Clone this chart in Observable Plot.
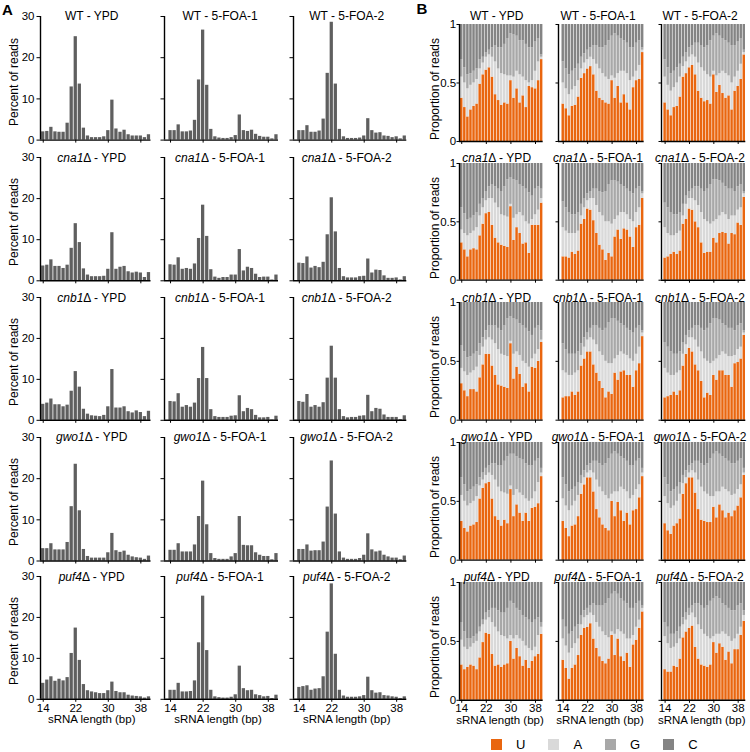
<!DOCTYPE html>
<html><head><meta charset="utf-8">
<script src="https://cdn.jsdelivr.net/npm/d3@7"></script>
<script src="https://cdn.jsdelivr.net/npm/@observablehq/plot@0.6"></script>
<style>
html,body{margin:0;padding:0;background:#fff;}
#root{position:relative;width:750px;height:752px;overflow:hidden;font-family:"Liberation Sans",Arial,sans-serif;color:#000;}
.t{position:absolute;font-size:12px;white-space:nowrap;line-height:1;transform:translate(-50%,-50%);}
.xl{position:absolute;font-size:11.5px;white-space:nowrap;line-height:1;transform:translate(-50%,-50%);}
.yl{position:absolute;font-size:12px;white-space:nowrap;line-height:1;transform:translate(-50%,-50%) rotate(-90deg);}
.pl{position:absolute;font-size:15px;font-weight:bold;line-height:1;transform:translate(-50%,-50%);}
.nl-swatches{min-height:0 !important;margin:0 !important;line-height:11px !important;}
.nl-swatch{margin-right:23px !important;}
.nl-swatch > svg{margin-right:14px !important;}
</style></head>
<body><div id="root"></div>
<script>
// ---------- categories / ticks ----------
const lengths = [14,15,16,17,18,19,20,21,22,23,24,25,26,27,28,29,30,31,32,33,34,35,36,37,38,39,40];
const strains = ["WT","cna1","cnb1","gwo1","puf4"];
const conditions = ["YPD","5-FOA-1","5-FOA-2"];
const xTicks = [14,22,30,38];
const yTicksA = [0,10,20,30];
const yTicksB = [0,0.5,1];
const nucleotides = ["U","A","G","C"];
const nucColors = ["#e9660f","#d9d9d9","#a8a8a8","#848484"];

// ---------- A: percent of reads ----------
const pct_WT_YPD   = [2.0,2.1,3.1,2.0,1.9,1.9,4.1,12.9,25.1,13.6,2.9,1.0,0.6,0.6,0.6,0.8,2.3,9.7,2.7,1.9,2.4,1.3,1.0,1.0,1.0,0.6,1.3];
const pct_WT_FOA1  = [2.3,2.3,3.7,2.0,2.0,2.2,4.8,14.6,26.7,13.3,2.6,0.8,0.5,0.4,0.4,0.6,1.1,6.1,2.3,2.1,2.4,1.4,0.9,0.7,0.7,0.3,1.3];
const pct_WT_FOA2  = [2.3,2.3,3.5,1.9,1.9,2.2,5.1,16.2,28.6,13.6,2.6,0.8,0.4,0.4,0.4,0.5,1.0,5.2,2.3,1.7,1.8,1.0,0.9,0.6,0.8,0.3,1.0];
const pct_cna1_YPD = [3.6,3.8,5.1,3.5,3.5,3.0,3.8,7.9,13.9,9.3,2.9,1.4,1.0,1.0,1.0,1.1,2.8,11.7,2.8,3.3,3.5,2.2,1.9,2.1,1.9,0.8,2.0];
const pct_cna1_FOA1= [3.9,3.8,5.6,2.8,3.0,2.8,4.1,10.3,18.4,10.8,2.7,0.9,0.6,0.8,0.8,1.4,1.4,7.6,2.4,3.3,3.0,1.6,0.8,0.9,0.9,0.2,1.4];
const pct_cna1_FOA2= [4.3,4.2,5.8,3.1,3.5,3.2,4.5,11.2,20.2,11.9,3.0,1.0,0.7,0.7,0.7,1.0,1.1,5.3,1.9,2.6,2.5,1.2,0.6,0.6,0.7,0.2,1.0];
const pct_cnb1_YPD = [3.9,4.2,5.2,3.8,3.8,3.3,3.7,7.1,11.9,8.1,2.7,1.5,1.1,1.0,0.9,1.2,3.3,12.4,3.0,3.0,3.3,2.1,1.8,2.3,1.9,0.9,2.2];
const pct_cnb1_FOA1= [4.6,4.5,6.5,3.2,3.6,3.2,4.2,10.2,17.8,10.2,2.6,0.9,0.7,0.7,0.7,1.0,1.1,6.0,2.1,2.9,2.6,1.2,0.6,0.6,0.7,0.1,1.0];
const pct_cnb1_FOA2= [4.6,4.4,6.3,3.2,3.6,3.2,4.3,10.3,18.1,10.3,2.6,0.9,0.6,0.7,0.7,1.0,1.1,6.1,2.1,2.9,2.7,1.3,0.7,0.7,0.7,0.2,1.1];
const pct_gwo1_YPD = [3.0,3.0,4.2,2.7,2.7,2.7,4.5,13.2,23.5,12.2,2.8,1.1,0.7,0.7,0.7,0.7,2.0,6.7,2.5,2.1,2.4,1.4,1.0,0.8,0.7,0.4,1.2];
const pct_gwo1_FOA1= [2.6,2.6,4.2,2.2,2.2,2.2,3.9,10.8,19.4,8.8,1.8,0.6,0.4,0.4,0.4,1.0,1.8,10.8,3.8,3.7,3.7,2.0,1.4,1.1,1.1,0.3,1.8];
const pct_gwo1_FOA2= [2.8,2.8,3.9,2.4,2.5,2.5,4.6,13.1,24.3,11.4,2.2,0.7,0.4,0.4,0.4,0.6,1.4,6.6,2.7,2.2,2.4,1.4,1.0,0.7,0.7,0.3,1.2];
const pct_puf4_YPD = [3.9,4.7,5.5,4.4,4.9,4.5,5.3,11.2,17.4,9.5,3.6,2.1,1.8,1.6,1.4,1.4,2.1,4.2,1.9,1.6,1.6,1.0,0.8,0.7,0.6,0.3,0.6];
const pct_puf4_FOA1= [2.2,2.2,3.9,1.8,1.8,1.9,4.5,13.8,25.2,11.9,2.2,0.6,0.4,0.3,0.3,0.5,1.1,8.1,2.6,2.1,2.2,1.1,0.9,0.6,0.7,0.2,1.0];
const pct_puf4_FOA2= [2.9,3.1,3.3,2.2,2.5,2.6,5.5,16.4,28.2,11.0,2.2,0.8,0.5,0.5,0.5,0.6,0.9,5.4,2.1,1.5,1.6,0.9,0.8,0.6,0.5,0.2,0.6];

// ---------- B: proportion of reads (cumulative tops: U, U+A, U+A+G; C fills to 1) ----------
const u_WT_YPD    = [0.37,0.29,0.21,0.27,0.30,0.32,0.49,0.57,0.61,0.63,0.55,0.40,0.35,0.31,0.33,0.32,0.52,0.37,0.45,0.33,0.39,0.29,0.47,0.46,0.45,0.52,0.70];
const ua_WT_YPD   = [0.55,0.50,0.45,0.48,0.50,0.53,0.62,0.67,0.72,0.74,0.72,0.68,0.62,0.58,0.57,0.56,0.56,0.55,0.60,0.57,0.55,0.52,0.50,0.52,0.60,0.68,0.72];
const uag_WT_YPD  = [0.70,0.63,0.57,0.58,0.60,0.62,0.70,0.72,0.76,0.78,0.80,0.82,0.80,0.80,0.83,0.88,0.92,0.91,0.90,0.86,0.86,0.83,0.80,0.80,0.85,0.88,0.74];
const u_WT_FOA1   = [0.32,0.28,0.22,0.30,0.31,0.38,0.54,0.58,0.62,0.64,0.57,0.43,0.37,0.35,0.33,0.32,0.52,0.37,0.47,0.33,0.40,0.33,0.27,0.46,0.52,0.53,0.76];
const ua_WT_FOA1  = [0.50,0.45,0.40,0.44,0.47,0.52,0.62,0.67,0.70,0.72,0.70,0.66,0.62,0.58,0.55,0.53,0.56,0.54,0.58,0.60,0.60,0.58,0.52,0.55,0.60,0.65,0.78];
const uag_WT_FOA1 = [0.68,0.62,0.57,0.60,0.62,0.66,0.72,0.75,0.78,0.80,0.82,0.82,0.80,0.80,0.82,0.86,0.90,0.92,0.90,0.88,0.86,0.84,0.80,0.80,0.84,0.86,0.80];
const u_WT_FOA2   = [0.33,0.27,0.22,0.29,0.30,0.38,0.55,0.58,0.63,0.65,0.57,0.43,0.37,0.34,0.35,0.32,0.57,0.42,0.48,0.41,0.37,0.39,0.27,0.43,0.47,0.53,0.74];
const ua_WT_FOA2  = [0.55,0.48,0.43,0.46,0.50,0.55,0.64,0.68,0.72,0.74,0.72,0.67,0.63,0.60,0.57,0.55,0.60,0.56,0.58,0.60,0.58,0.56,0.50,0.55,0.60,0.66,0.76];
const uag_WT_FOA2 = [0.70,0.63,0.58,0.60,0.63,0.66,0.72,0.76,0.80,0.82,0.84,0.84,0.82,0.80,0.82,0.86,0.90,0.92,0.90,0.88,0.86,0.84,0.82,0.82,0.85,0.88,0.78];

const u_cna1_YPD    = [0.32,0.26,0.20,0.26,0.27,0.26,0.38,0.48,0.57,0.58,0.47,0.36,0.32,0.30,0.29,0.28,0.63,0.34,0.45,0.40,0.31,0.32,0.23,0.47,0.47,0.47,0.66];
const ua_cna1_YPD   = [0.43,0.40,0.38,0.40,0.42,0.45,0.55,0.62,0.68,0.70,0.70,0.66,0.62,0.56,0.55,0.54,0.65,0.53,0.56,0.58,0.55,0.50,0.48,0.52,0.56,0.60,0.70];
const uag_cna1_YPD  = [0.62,0.57,0.52,0.53,0.55,0.58,0.65,0.70,0.76,0.80,0.82,0.80,0.78,0.76,0.80,0.86,0.88,0.86,0.85,0.82,0.80,0.78,0.75,0.72,0.78,0.80,0.78];
const u_cna1_FOA1   = [0.20,0.20,0.19,0.24,0.22,0.25,0.48,0.52,0.61,0.60,0.51,0.40,0.30,0.26,0.17,0.23,0.20,0.37,0.43,0.35,0.44,0.43,0.37,0.28,0.45,0.47,0.70];
const ua_cna1_FOA1  = [0.45,0.42,0.40,0.40,0.40,0.42,0.55,0.62,0.68,0.70,0.70,0.64,0.58,0.55,0.50,0.50,0.48,0.52,0.55,0.58,0.58,0.56,0.52,0.50,0.58,0.62,0.74];
const uag_cna1_FOA1 = [0.67,0.62,0.58,0.56,0.56,0.58,0.65,0.70,0.74,0.76,0.78,0.78,0.76,0.75,0.76,0.82,0.85,0.85,0.84,0.82,0.80,0.78,0.76,0.74,0.78,0.80,0.76];
const u_cna1_FOA2   = [0.19,0.20,0.22,0.24,0.22,0.25,0.48,0.52,0.61,0.60,0.50,0.45,0.32,0.23,0.24,0.24,0.36,0.32,0.40,0.41,0.40,0.31,0.40,0.39,0.49,0.47,0.71];
const ua_cna1_FOA2  = [0.45,0.40,0.38,0.38,0.40,0.42,0.55,0.65,0.70,0.70,0.68,0.64,0.58,0.52,0.50,0.48,0.50,0.52,0.55,0.58,0.56,0.52,0.55,0.55,0.60,0.62,0.74];
const uag_cna1_FOA2 = [0.66,0.62,0.58,0.56,0.56,0.58,0.65,0.72,0.76,0.78,0.80,0.80,0.78,0.76,0.78,0.82,0.86,0.86,0.85,0.83,0.80,0.78,0.78,0.76,0.80,0.82,0.76];

const u_cnb1_YPD    = [0.31,0.25,0.20,0.26,0.26,0.24,0.36,0.47,0.56,0.56,0.46,0.38,0.30,0.29,0.28,0.27,0.65,0.35,0.45,0.39,0.28,0.31,0.24,0.45,0.44,0.50,0.66];
const ua_cnb1_YPD   = [0.44,0.41,0.38,0.40,0.42,0.45,0.55,0.62,0.68,0.70,0.68,0.65,0.60,0.56,0.55,0.54,0.67,0.56,0.58,0.55,0.50,0.48,0.45,0.52,0.56,0.60,0.68];
const uag_cnb1_YPD  = [0.63,0.58,0.53,0.54,0.56,0.58,0.65,0.70,0.76,0.80,0.80,0.80,0.78,0.76,0.80,0.86,0.88,0.86,0.85,0.82,0.80,0.78,0.75,0.72,0.78,0.80,0.76];
const u_cnb1_FOA1   = [0.19,0.20,0.20,0.24,0.21,0.24,0.46,0.52,0.58,0.58,0.47,0.40,0.33,0.27,0.19,0.24,0.22,0.40,0.34,0.41,0.42,0.38,0.38,0.28,0.42,0.48,0.71];
const ua_cnb1_FOA1  = [0.42,0.40,0.38,0.38,0.40,0.42,0.55,0.62,0.68,0.70,0.68,0.64,0.58,0.55,0.50,0.48,0.48,0.52,0.55,0.58,0.56,0.55,0.52,0.50,0.56,0.62,0.74];
const uag_cnb1_FOA1 = [0.65,0.60,0.56,0.56,0.56,0.58,0.65,0.70,0.74,0.78,0.80,0.80,0.78,0.76,0.78,0.83,0.86,0.86,0.84,0.82,0.80,0.78,0.76,0.74,0.78,0.80,0.76];
const u_cnb1_FOA2   = [0.19,0.20,0.21,0.24,0.21,0.25,0.46,0.56,0.61,0.58,0.47,0.42,0.33,0.19,0.23,0.21,0.38,0.34,0.42,0.42,0.38,0.38,0.28,0.48,0.49,0.52,0.72];
const ua_cnb1_FOA2  = [0.44,0.40,0.38,0.38,0.40,0.42,0.56,0.64,0.70,0.70,0.68,0.62,0.58,0.52,0.50,0.48,0.50,0.52,0.55,0.58,0.56,0.54,0.54,0.55,0.60,0.62,0.74];
const uag_cnb1_FOA2 = [0.66,0.62,0.58,0.56,0.56,0.58,0.66,0.72,0.76,0.78,0.80,0.80,0.78,0.76,0.78,0.82,0.86,0.86,0.85,0.82,0.80,0.78,0.78,0.76,0.80,0.82,0.76];

const u_gwo1_YPD    = [0.33,0.27,0.24,0.29,0.30,0.32,0.52,0.61,0.65,0.66,0.52,0.37,0.34,0.29,0.34,0.31,0.60,0.37,0.47,0.40,0.33,0.40,0.33,0.44,0.45,0.48,0.71];
const ua_gwo1_YPD   = [0.55,0.50,0.46,0.48,0.50,0.54,0.63,0.68,0.72,0.74,0.72,0.68,0.62,0.58,0.57,0.56,0.63,0.55,0.60,0.57,0.55,0.52,0.50,0.52,0.58,0.66,0.74];
const uag_gwo1_YPD  = [0.70,0.64,0.58,0.60,0.62,0.64,0.70,0.74,0.78,0.80,0.82,0.82,0.80,0.80,0.84,0.88,0.90,0.90,0.88,0.86,0.85,0.82,0.80,0.80,0.84,0.86,0.78];
const u_gwo1_FOA1   = [0.33,0.27,0.20,0.29,0.30,0.37,0.56,0.64,0.70,0.70,0.58,0.43,0.36,0.30,0.27,0.25,0.50,0.37,0.49,0.42,0.33,0.40,0.30,0.42,0.43,0.53,0.71];
const ua_gwo1_FOA1  = [0.52,0.46,0.42,0.46,0.50,0.55,0.65,0.70,0.74,0.76,0.74,0.68,0.62,0.58,0.55,0.52,0.56,0.58,0.58,0.62,0.60,0.58,0.52,0.55,0.60,0.64,0.74];
const uag_gwo1_FOA1 = [0.70,0.64,0.58,0.60,0.62,0.66,0.72,0.76,0.80,0.82,0.84,0.84,0.82,0.80,0.82,0.86,0.90,0.92,0.90,0.88,0.86,0.84,0.80,0.80,0.84,0.86,0.78];
const u_gwo1_FOA2   = [0.31,0.25,0.22,0.29,0.31,0.35,0.56,0.65,0.70,0.70,0.57,0.43,0.34,0.33,0.32,0.32,0.45,0.36,0.47,0.42,0.36,0.40,0.37,0.42,0.46,0.53,0.72];
const ua_gwo1_FOA2  = [0.54,0.48,0.44,0.46,0.50,0.56,0.65,0.70,0.74,0.76,0.74,0.68,0.62,0.58,0.56,0.54,0.54,0.58,0.58,0.62,0.60,0.58,0.55,0.56,0.60,0.64,0.74];
const uag_gwo1_FOA2 = [0.70,0.64,0.58,0.60,0.62,0.66,0.72,0.76,0.80,0.82,0.84,0.84,0.82,0.80,0.82,0.86,0.90,0.92,0.90,0.88,0.86,0.84,0.82,0.82,0.84,0.86,0.78];

const u_puf4_YPD    = [0.30,0.26,0.28,0.30,0.29,0.26,0.36,0.49,0.57,0.56,0.39,0.29,0.30,0.28,0.30,0.31,0.50,0.35,0.44,0.37,0.29,0.34,0.27,0.33,0.37,0.39,0.56];
const ua_puf4_YPD   = [0.51,0.45,0.43,0.45,0.48,0.50,0.58,0.64,0.68,0.70,0.66,0.62,0.58,0.55,0.54,0.52,0.55,0.52,0.55,0.52,0.50,0.46,0.44,0.42,0.45,0.55,0.62];
const uag_puf4_YPD  = [0.66,0.58,0.52,0.52,0.54,0.56,0.62,0.68,0.74,0.76,0.78,0.78,0.76,0.74,0.74,0.78,0.84,0.82,0.78,0.76,0.72,0.70,0.68,0.66,0.68,0.70,0.66];
const u_puf4_FOA1   = [0.34,0.27,0.18,0.27,0.30,0.38,0.55,0.61,0.62,0.65,0.52,0.44,0.37,0.33,0.31,0.35,0.55,0.38,0.52,0.37,0.33,0.40,0.28,0.47,0.51,0.61,0.75];
const ua_puf4_FOA1  = [0.52,0.46,0.40,0.44,0.48,0.52,0.64,0.70,0.72,0.74,0.72,0.66,0.62,0.58,0.55,0.53,0.58,0.56,0.60,0.58,0.56,0.52,0.52,0.55,0.62,0.68,0.78];
const uag_puf4_FOA1 = [0.68,0.62,0.56,0.58,0.62,0.64,0.72,0.76,0.78,0.80,0.82,0.80,0.80,0.80,0.82,0.86,0.90,0.92,0.90,0.86,0.84,0.82,0.78,0.78,0.82,0.84,0.80];
const u_puf4_FOA2   = [0.26,0.24,0.24,0.29,0.28,0.35,0.53,0.58,0.61,0.63,0.45,0.35,0.30,0.29,0.28,0.30,0.49,0.40,0.48,0.45,0.34,0.41,0.31,0.43,0.43,0.55,0.67];
const ua_puf4_FOA2  = [0.54,0.48,0.44,0.45,0.48,0.52,0.64,0.68,0.72,0.74,0.70,0.64,0.60,0.56,0.54,0.52,0.54,0.56,0.56,0.58,0.56,0.54,0.50,0.52,0.56,0.62,0.72];
const uag_puf4_FOA2 = [0.66,0.62,0.56,0.56,0.58,0.62,0.70,0.74,0.78,0.80,0.82,0.82,0.80,0.78,0.80,0.84,0.86,0.88,0.86,0.82,0.80,0.78,0.76,0.76,0.80,0.82,0.76];

// ---------- grouping ----------
const pctGrid = [
  [pct_WT_YPD, pct_WT_FOA1, pct_WT_FOA2],
  [pct_cna1_YPD, pct_cna1_FOA1, pct_cna1_FOA2],
  [pct_cnb1_YPD, pct_cnb1_FOA1, pct_cnb1_FOA2],
  [pct_gwo1_YPD, pct_gwo1_FOA1, pct_gwo1_FOA2],
  [pct_puf4_YPD, pct_puf4_FOA1, pct_puf4_FOA2]
];
const nucGrid = [
  [[u_WT_YPD,ua_WT_YPD,uag_WT_YPD],[u_WT_FOA1,ua_WT_FOA1,uag_WT_FOA1],[u_WT_FOA2,ua_WT_FOA2,uag_WT_FOA2]],
  [[u_cna1_YPD,ua_cna1_YPD,uag_cna1_YPD],[u_cna1_FOA1,ua_cna1_FOA1,uag_cna1_FOA1],[u_cna1_FOA2,ua_cna1_FOA2,uag_cna1_FOA2]],
  [[u_cnb1_YPD,ua_cnb1_YPD,uag_cnb1_YPD],[u_cnb1_FOA1,ua_cnb1_FOA1,uag_cnb1_FOA1],[u_cnb1_FOA2,ua_cnb1_FOA2,uag_cnb1_FOA2]],
  [[u_gwo1_YPD,ua_gwo1_YPD,uag_gwo1_YPD],[u_gwo1_FOA1,ua_gwo1_FOA1,uag_gwo1_FOA1],[u_gwo1_FOA2,ua_gwo1_FOA2,uag_gwo1_FOA2]],
  [[u_puf4_YPD,ua_puf4_YPD,uag_puf4_YPD],[u_puf4_FOA1,ua_puf4_FOA1,uag_puf4_FOA1],[u_puf4_FOA2,ua_puf4_FOA2,uag_puf4_FOA2]]
];

// ---------- layout ----------
const FONT = '"Liberation Sans", Arial, sans-serif';
const root = document.getElementById("root");
const A_AXIS = [39.5, 164.3, 292.7], A_X13 = [40.2, 168.3, 296.5], A_X40 = [150, 278.3, 406];
const A_TOP = [15.7, 156.7, 296.7, 436.5, 575.5], A_BOT = [139.3, 280, 419.5, 560, 698.3];
const B_AXIS = [459.3, 558.3, 660.7], B_X13 = [460, 561.5, 662.8], B_X40 = [543, 644, 745];
const B_TOP = [24.3, 163.3, 302.3, 442.3, 581.7], B_BOT = [141.3, 280, 420, 560, 699.5];
const TITLE_Y = [16, 157.5, 297.5, 436.5, 576.5];
const TITLE_XA = [91.7, 220, 346.7], TITLE_XB = [496.7, 598, 700];
const XLAB_A = [91.7, 218, 346.7], XLAB_B = [500, 600, 701.7];

function place(el, left, top) {
  el.style.position = "absolute";
  el.style.left = left + "px";
  el.style.top = top + "px";
  el.style.overflow = "visible";
  root.appendChild(el);
}
function addText(cls, html, x, y) {
  const d = document.createElement("div");
  d.className = cls; d.innerHTML = html;
  d.style.left = x + "px"; d.style.top = y + "px";
  root.appendChild(d);
}

function panelA(r, c) {
  const vals = pctGrid[r][c];
  const data = lengths.map((len, i) => ({len, v: vals[i]}));
  const unit = (A_X40[c] - A_X13[c]) / 27;
  const xStart = 13.5 - (A_X13[c] - A_AXIS[c]) / unit;
  const mL = 40, mR = 4, mT = 8, mB = r === 4 ? 24 : 6;
  const w = A_X40[c] - A_AXIS[c], h = A_BOT[r] - A_TOP[r];
  const svg = Plot.plot({
    width: mL + w + mR, height: mT + h + mB,
    marginLeft: mL, marginRight: mR, marginTop: mT, marginBottom: mB,
    style: {fontFamily: FONT, fontSize: "11.5px", background: "none", overflow: "visible", color: "#000"},
    x: {domain: [xStart, 40.5]},
    y: {domain: [0, 30]},
    marks: [
      Plot.rect(data, {x1: d => d.len - 0.5, x2: d => d.len + 0.5, y1: 0, y2: "v", fill: "#5f5f5f", insetLeft: 0.4, insetRight: 0.4}),
      Plot.axisY({ticks: yTicksA, tickSize: 3.5, tickPadding: 2.5, tickFormat: c === 0 ? (d => String(d)) : (() => ""), label: null}),
      Plot.axisX({ticks: xTicks, tickSize: 3, tickPadding: 1.5, tickFormat: r === 4 ? (d => String(d)) : (() => ""), label: null}),
      Plot.ruleX([xStart], {stroke: "#000", strokeWidth: 1.4}),
      Plot.ruleY([0], {stroke: "#000", strokeWidth: 1.4})
    ]
  });
  place(svg, A_AXIS[c] - mL, A_TOP[r] - mT);
}

function panelB(r, c) {
  const [u, ua, uag] = nucGrid[r][c];
  const data = lengths.map((len, i) => ({len, u: u[i], ua: ua[i], uag: uag[i]}));
  const unit = (B_X40[c] - B_X13[c]) / 27;
  const xStart = 13.5 - (B_X13[c] - B_AXIS[c]) / unit;
  const mL = 30, mR = 3, mT = 8, mB = r === 4 ? 24 : 6;
  const w = B_X40[c] - B_AXIS[c], h = B_BOT[r] - B_TOP[r];
  const x1 = d => d.len - 0.5, x2 = d => d.len + 0.5;
  const ins = {insetLeft: 0.3, insetRight: 0.3};
  const svg = Plot.plot({
    width: mL + w + mR, height: mT + h + mB,
    marginLeft: mL, marginRight: mR, marginTop: mT, marginBottom: mB,
    style: {fontFamily: FONT, fontSize: "11.5px", background: "none", overflow: "visible", color: "#000"},
    x: {domain: [xStart, 40.5]},
    y: {domain: [0, 1]},
    marks: [
      Plot.rect(data, {x1, x2, y1: 0, y2: "u", fill: nucColors[0], ...ins}),
      Plot.rect(data, {x1, x2, y1: "u", y2: "ua", fill: nucColors[1], ...ins}),
      Plot.rect(data, {x1, x2, y1: "ua", y2: "uag", fill: nucColors[2], ...ins}),
      Plot.rect(data, {x1, x2, y1: "uag", y2: 1, fill: nucColors[3], ...ins}),
      Plot.axisY({ticks: yTicksB, tickSize: 2.5, tickPadding: 0.8, tickFormat: c === 0 ? (d => d === 0.5 ? "0.5" : String(d)) : (() => ""), label: null}),
      Plot.axisX({ticks: xTicks, tickSize: 3, tickPadding: 0.8, tickFormat: r === 4 ? (d => String(d)) : (() => ""), label: null}),
      Plot.ruleX([xStart], {stroke: "#000", strokeWidth: 1.4}),
      Plot.ruleY([0], {stroke: "#000", strokeWidth: 1.4})
    ]
  });
  place(svg, B_AXIS[c] - mL, B_TOP[r] - mT);
}

function titleHTML(s, cond) {
  return (s === "WT" ? "WT" : `<i>${s}</i>\u0394`) + " - " + cond;
}

for (let r = 0; r < strains.length; r++) {
  for (let c = 0; c < conditions.length; c++) {
    panelA(r, c);
    panelB(r, c);
    addText("t", titleHTML(strains[r], conditions[c]), TITLE_XA[c], TITLE_Y[r]);
    addText("t", titleHTML(strains[r], conditions[c]), TITLE_XB[c], TITLE_Y[r]);
  }
  addText("yl", "Percent of reads", 13.5, (A_TOP[r] + A_BOT[r]) / 2 + 4);
  addText("yl", "Proportion of reads", 434.5, (B_TOP[r] + B_BOT[r]) / 2 + 6);
}
for (let c = 0; c < 3; c++) {
  addText("xl", "sRNA length (bp)", XLAB_A[c], 720);
  addText("xl", "sRNA length (bp)", XLAB_B[c], 721);
}
addText("pl", "A", 7.5, 9);
addText("pl", "B", 422, 8);

const legend = Plot.legend({
  color: {type: "ordinal", domain: nucleotides, range: nucColors},
  legend: "swatches", swatchSize: 11, className: "nl",
  style: {fontFamily: FONT, fontSize: "13px", color: "#000"}
});
place(legend, 491, 739);
</script>
</body></html>
